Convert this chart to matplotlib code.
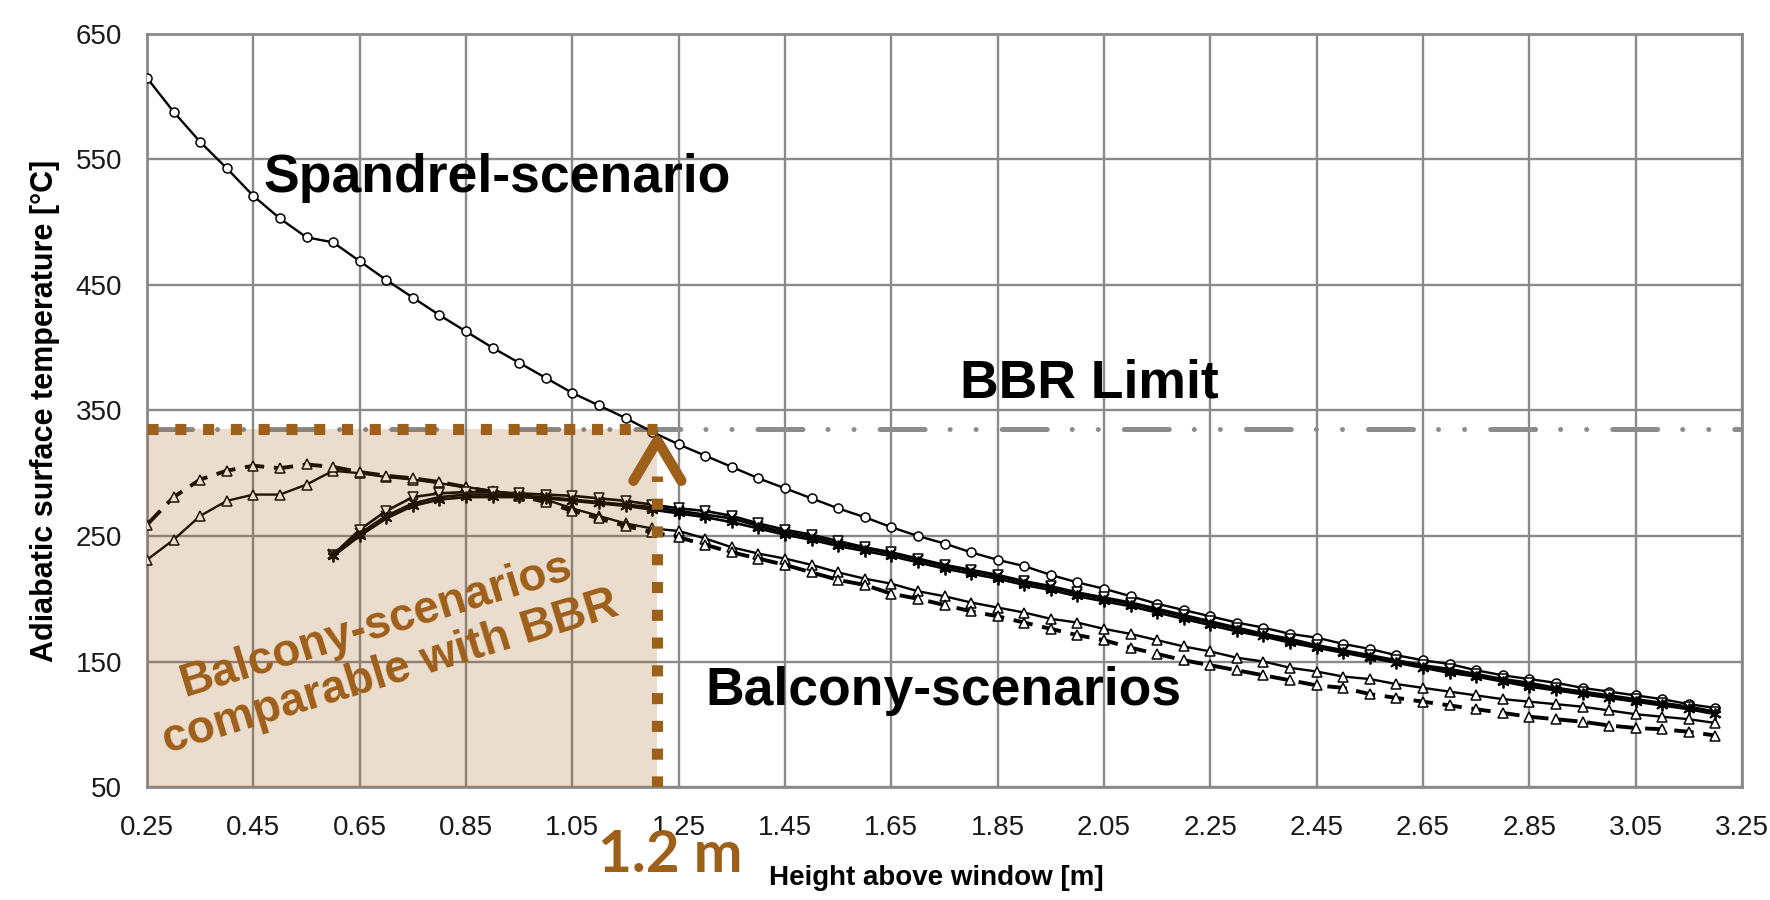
import numpy as np
import matplotlib
matplotlib.use('Agg')
import matplotlib.pyplot as plt
from matplotlib.patches import Rectangle

plt.rcParams['font.family'] = ['Liberation Sans', 'DejaVu Sans']

# heights above window [m], measured every 5 cm
heights = np.round(np.arange(0.25, 3.201, 0.05), 2)
heights_late = heights[7:]          # balcony runs that start at 0.60 m

spandrel = [615, 588, 564, 543, 521, 503, 488, 484, 469, 454,
            440, 426, 413, 400, 388, 376, 364, 354, 344, 333,
            323, 314, 305, 296, 288, 280, 272, 265, 257, 250,
            244, 237, 231, 226, 219, 213, 208, 202, 196, 191,
            186, 181, 177, 172, 169, 164, 160, 155, 151, 148,
            143, 139, 136, 133, 129, 126, 123, 120, 116, 113]

balcony_tri = [231, 247, 266, 278, 283, 283, 291, 302, 300, 297,
               295, 292, 289, 286, 283, 279, 272, 266, 260, 256,
               254, 248, 241, 236, 232, 227, 221, 216, 212, 206,
               202, 197, 193, 189, 184, 181, 176, 172, 167, 162,
               158, 153, 150, 145, 142, 138, 136, 132, 129, 126,
               123, 120, 118, 116, 114, 111, 108, 106, 104, 101]

balcony_tri_dashed = [259, 281, 295, 302, 306, 304, 307, 305, 301, 298,
                      296, 293, 289, 285, 282, 277, 270, 264, 258, 253,
                      249, 243, 237, 232, 227, 221, 215, 211, 204, 200,
                      195, 190, 186, 181, 176, 171, 167, 161, 156, 151,
                      147, 143, 139, 135, 131, 129, 124, 121, 118, 115,
                      112, 109, 106, 104, 102, 99, 97, 96, 94, 91]

balcony_v = [235, 255, 270, 281, 284, 285, 285, 284, 283, 282,
             280, 278, 275, 272, 270, 266, 260, 255, 251, 246,
             241, 237, 232, 227, 223, 219, 214, 210, 205, 201,
             197, 192, 187, 182, 177, 172, 168, 163, 159, 155,
             151, 147, 144, 140, 136, 133, 129, 126, 123, 120,
             117, 114, 110]

balcony_x = [236, 252, 266, 276, 281, 283, 283, 282, 281, 279,
             277, 275, 273, 270, 267, 264, 258, 253, 249, 244,
             240, 236, 231, 226, 222, 218, 213, 209, 204, 200,
             196, 191, 186, 181, 176, 171, 167, 162, 158, 154,
             150, 146, 143, 139, 135, 132, 128, 125, 122, 119,
             116, 113, 109]

balcony_star = [234, 250, 264, 274, 279, 281, 281, 281, 280, 278,
                276, 274, 271, 268, 265, 261, 256, 251, 247, 242,
                238, 234, 229, 224, 220, 216, 211, 207, 202, 198,
                194, 189, 184, 179, 174, 170, 165, 161, 157, 153,
                149, 145, 141, 138, 134, 130, 127, 124, 121, 118,
                115, 112, 108]

x_ticks = np.round(np.arange(0.25, 3.26, 0.2), 2)
y_ticks = [50, 150, 250, 350, 450, 550, 650]

bbr_limit = 335          # adiabatic surface temperature limit [C]
bbr_height = 1.21        # height where spandrel curve meets the limit

brown = '#9E5F19'
grid_gray = '#8a8a8a'

fig = plt.figure(figsize=(17.7, 9), dpi=100)
ax = fig.add_axes([147 / 1770, 1 - 787 / 900, 1595 / 1770, 753 / 900])

ax.set_xlim(0.25, 3.25)
ax.set_ylim(50, 650)
ax.set_xticks(x_ticks)
ax.set_xticklabels([f'{v:.2f}' for v in x_ticks])
ax.set_yticks(y_ticks)
ax.grid(True, color=grid_gray, lw=1.7)
ax.set_axisbelow(True)
for s in ax.spines.values():
    s.set_color(grid_gray)
    s.set_linewidth(2)
ax.tick_params(axis='both', length=0, labelsize=20, labelcolor='#1a1a1a')
ax.tick_params(axis='x', pad=20)
ax.tick_params(axis='y', pad=18)

common = dict(color='black', mfc='white', mec='black', zorder=3)
ax.plot(heights, spandrel, marker='o', lw=1.7, ms=6.5, mew=1.1, **common)
ax.plot(heights, balcony_tri, marker='^', lw=1.7, ms=7.5, mew=1.1, **common)
ax.plot(heights, balcony_tri_dashed, marker='^', lw=2.8, ms=7.5, mew=1.1,
        dashes=(5, 2.5), **common)
ax.plot(heights_late, balcony_v, marker='v', lw=1.9, ms=7.5, mew=1.1, **common)
ax.plot(heights_late, balcony_x, marker='x', lw=1.9, ms=7.5, mew=1.4, **common)
ax.plot(heights_late, balcony_star, marker=(6, 2, 0), lw=1.9, ms=8.5, mew=1.3, **common)

# BBR limit, dash-dot-dot
ax.axhline(bbr_limit, color='#8c8c8c', lw=3.6, solid_capstyle='round',
           dash_capstyle='round', dashes=(9, 5, 0.01, 5.2, 0.01, 5.2), zorder=2)

# brown overlay of the comparable region
ax.add_patch(Rectangle((0.25, 50), bbr_height - 0.25, bbr_limit - 50,
                       facecolor=brown, alpha=0.21, lw=0, zorder=4))
ax.plot([0.25, bbr_height], [bbr_limit, bbr_limit], color=brown, lw=8,
        dashes=(1, 1.5), dash_capstyle='butt', zorder=5)
ax.plot([bbr_height, bbr_height], [50, 298], color=brown, lw=8,
        dashes=(1, 1.5), dash_capstyle='butt', zorder=5)
ax.plot([bbr_height - 0.045, bbr_height, bbr_height + 0.045], [294, 326, 294],
        color=brown, lw=7.5, solid_capstyle='round', solid_joinstyle='round',
        zorder=5)

big = dict(fontsize=38.5, fontweight='bold', color='black', zorder=6)
ax.text(0.47, 524, 'Spandrel-scenario', ha='left', va='baseline', **big)
ax.text(1.78, 360, 'BBR Limit', ha='left', va='baseline', **big)
ax.text(1.30, 115, 'Balcony-scenarios', ha='left', va='baseline', **big)
ax.text(0.695, 160, 'Balcony-scenarios\ncomparable with BBR', ha='center',
        va='center', rotation=17, fontsize=33, fontweight='bold', color=brown,
        linespacing=1.15, zorder=6, rotation_mode='anchor')

fig.text(670 / 1770, 1 - 855 / 900, '1.2 m', ha='center', va='center',
         fontsize=42, fontweight='bold', color=brown,
         family=['Lato', 'DejaVu Sans'])

ax.set_xlabel('Height above window [m]', fontsize=20, fontweight='bold')
ax.set_ylabel('Adiabatic surface temperature [\u00b0C]', fontsize=22,
              fontweight='bold')
ax.xaxis.set_label_coords(0.4947, -0.103)
ax.yaxis.set_label_coords(-0.0545, 0.5)

fig.savefig('out.png', dpi=100)
